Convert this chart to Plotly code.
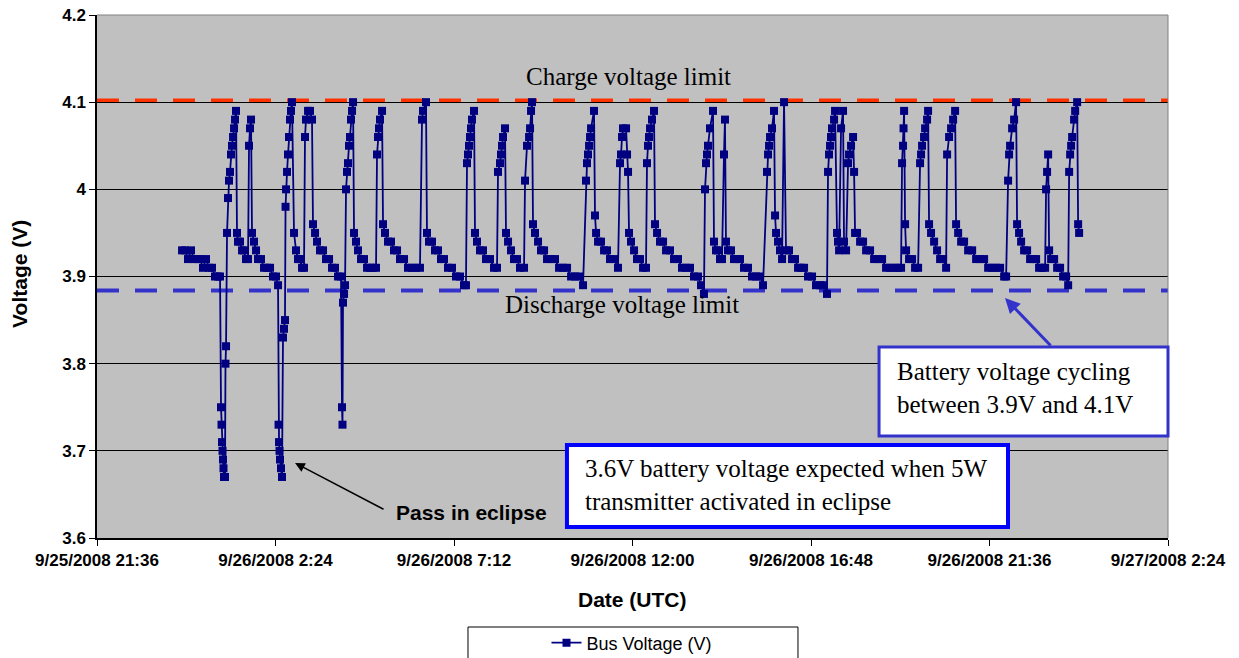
import pandas as pd
import plotly.graph_objects as go

# ---------------- data ----------------
# minutes after 2008-09-26 00:00 UTC
minutes = [
    -6.8, -2.0, 2.8, 7.7, 12.5, 17.4, 22.2, 27.0, 31.9, 36.7, 41.6, 46.4, 51.2, 54.5,
    56.1, 56.9, 57.7, 58.5, 59.3, 60.1, 60.9, 62.5, 63.3, 64.2, 65.8, 67.4, 69.0, 70.6, 72.2, 73.8, 75.5, 77.1, 78.7, 80.3,
    81.9, 83.5, 86.7, 90.0, 93.2, 96.4, 99.7,
    101.3, 102.9, 104.5, 106.1, 109.3, 112.6, 115.8, 120.6, 125.5, 130.3, 135.2, 140.0, 144.8, 148.1,
    148.9, 149.7, 150.5, 151.3, 152.9, 154.5, 156.1, 157.7, 159.3, 160.2, 161.0, 162.6, 164.2, 165.8, 167.4, 169.0, 170.6,
    173.9, 177.1, 180.3, 183.6, 186.8, 190.0,
    191.6, 193.2, 196.5, 199.7, 202.9, 204.5, 207.8, 211.0, 215.8, 220.7, 225.5, 230.4, 235.2, 240.0, 244.9, 249.7,
    251.3, 252.1, 252.9, 254.6, 256.2, 257.8, 259.4, 261.0, 262.6, 264.2, 265.8, 267.5, 269.1,
    270.7, 273.9, 277.1, 282.0, 286.8, 291.7, 296.5, 301.3, 306.2,
    307.8, 309.4, 311.0, 312.6, 315.9, 317.5, 320.7, 325.5, 330.4, 335.2, 340.1, 344.9, 351.4, 357.8, 364.3, 370.7, 377.1,
    380.4, 382.0, 386.8, 388.4, 391.7, 396.5, 401.3, 406.2, 411.0, 415.9, 422.3, 428.8, 435.2, 441.7, 448.1, 451.3,
    453.0, 454.6, 456.2, 457.8, 459.4, 461.0, 464.3, 465.9, 469.1, 473.9, 478.8, 483.6, 490.1, 496.5, 501.4,
    503.0, 506.2, 507.8, 509.4, 511.1, 514.3, 515.9, 519.2, 524.0, 528.8, 533.7, 538.5, 545.0,
    546.6, 549.8, 553.1, 554.7, 556.3, 557.9, 559.5, 562.7, 567.6, 572.4, 577.3, 582.1, 588.6, 595.0, 601.5, 607.9, 614.4, 620.9, 627.3, 633.8, 640.2,
    645.0, 646.6, 648.2, 649.9, 651.5, 653.1, 657.9, 659.5, 661.2, 664.4, 669.2, 674.1, 678.9, 683.7, 690.2, 696.6,
    699.9, 701.5, 703.1, 704.7, 709.6, 711.2, 712.8, 714.4, 717.6, 722.5, 727.3, 732.1, 737.0, 741.8,
    743.4, 745.0, 746.6, 748.3, 751.5, 754.7, 756.3, 759.6, 764.4, 769.3, 774.1, 780.5, 787.0, 793.4, 799.9, 806.3, 812.8, 819.2, 825.7, 830.5, 835.3,
    837.0, 838.6, 840.2, 841.8, 845.0, 849.9, 851.5, 854.7, 857.9, 861.2, 864.4, 867.6, 869.2, 870.8, 874.1, 878.9, 883.8, 888.6, 893.5, 899.9, 906.4, 912.8, 919.3, 925.7, 930.6,
    937.0, 938.7, 940.3, 941.9, 945.1, 948.3, 950.0, 951.6, 954.8, 958.0, 961.3, 964.5, 967.7, 972.5, 977.4, 982.2, 987.1, 991.9, 996.8, 1003.2, 1009.7, 1016.1, 1022.6, 1029.0, 1033.8,
    1035.5, 1037.1, 1038.7, 1040.3, 1041.9, 1045.2, 1046.8, 1050.0, 1051.6, 1053.3, 1056.5, 1059.7, 1061.3, 1064.6, 1067.8, 1069.4, 1072.6, 1075.9, 1077.5,
    1079.1, 1082.3, 1087.2, 1092.0, 1096.9, 1103.3, 1109.8, 1116.2, 1122.7, 1129.1, 1135.6, 1142.0, 1148.5, 1153.3,
    1154.9, 1156.5, 1157.3, 1158.2, 1159.8, 1161.4, 1166.2, 1171.1, 1175.9, 1180.8,
    1184.0, 1185.6, 1187.2, 1190.4, 1192.1, 1195.3, 1196.9, 1198.5, 1201.7, 1206.6, 1211.4, 1216.3, 1221.1, 1226.0,
    1227.6, 1230.8, 1234.0, 1237.3, 1240.5, 1242.1, 1245.4, 1250.2, 1255.0, 1261.5, 1268.0, 1274.4, 1280.9, 1287.3, 1293.8, 1300.2, 1306.6, 1313.1, 1319.6, 1322.8,
    1326.0, 1327.6, 1329.2, 1332.5, 1335.7, 1338.9, 1340.5, 1343.7, 1347.0, 1351.8, 1356.7, 1361.5, 1366.3, 1371.2, 1376.0, 1380.9, 1385.7,
    1387.3, 1388.9, 1390.6, 1392.2, 1395.4, 1400.3, 1405.1, 1409.9, 1414.8, 1419.6, 1422.9,
    1424.5, 1426.1, 1427.7, 1429.3, 1432.5, 1434.2, 1437.4, 1439.0, 1440.6,
]

bus_voltage = [
    3.93, 3.93, 3.92, 3.93, 3.92, 3.92, 3.92, 3.91, 3.92, 3.91, 3.91, 3.90, 3.90, 3.90,
    3.75, 3.73, 3.71, 3.70, 3.69, 3.68, 3.67, 3.67, 3.80, 3.82, 3.95, 3.99, 4.01, 4.02, 4.04, 4.05, 4.06, 4.07, 4.08, 4.09,
    3.95, 3.94, 3.94, 3.93, 3.93, 3.92, 3.92,
    4.05, 4.07, 4.08, 3.95, 3.94, 3.93, 3.92, 3.92, 3.91, 3.91, 3.91, 3.90, 3.90, 3.89,
    3.73, 3.71, 3.70, 3.69, 3.68, 3.67, 3.83, 3.84, 3.85, 3.98, 4.00, 4.02, 4.04, 4.06, 4.08, 4.09, 4.10,
    3.95, 3.93, 3.92, 3.92, 3.91, 3.91,
    4.06, 4.08, 4.09, 4.09, 4.08, 3.96, 3.95, 3.94, 3.93, 3.93, 3.92, 3.92, 3.91, 3.91, 3.90, 3.90,
    3.75, 3.73, 3.87, 3.88, 3.89, 4.00, 4.02, 4.03, 4.05, 4.06, 4.08, 4.09, 4.10,
    3.95, 3.94, 3.93, 3.92, 3.92, 3.91, 3.91, 3.91, 3.91,
    4.04, 4.06, 4.07, 4.08, 4.09, 3.96, 3.95, 3.94, 3.94, 3.93, 3.93, 3.92, 3.92, 3.91, 3.91, 3.91, 3.91,
    4.08, 4.09, 4.10, 3.95, 3.94, 3.94, 3.93, 3.93, 3.92, 3.92, 3.91, 3.91, 3.90, 3.90, 3.89, 3.89,
    4.03, 4.04, 4.05, 4.06, 4.07, 4.08, 4.09, 3.95, 3.94, 3.93, 3.93, 3.92, 3.92, 3.91, 3.91,
    4.02, 4.03, 4.04, 4.05, 4.06, 4.07, 3.95, 3.94, 3.93, 3.92, 3.92, 3.91, 3.91,
    4.01, 4.05, 4.06, 4.07, 4.09, 4.10, 3.96, 3.95, 3.94, 3.93, 3.93, 3.92, 3.92, 3.92, 3.91, 3.91, 3.91, 3.90, 3.90, 3.90, 3.89,
    4.01, 4.03, 4.04, 4.05, 4.06, 4.07, 4.09, 3.97, 3.95, 3.94, 3.94, 3.93, 3.93, 3.92, 3.92, 3.91,
    4.03, 4.04, 4.06, 4.07, 4.07, 4.04, 4.02, 3.95, 3.94, 3.93, 3.92, 3.92, 3.91, 3.91,
    4.03, 4.05, 4.06, 4.07, 4.08, 4.09, 3.96, 3.95, 3.94, 3.94, 3.93, 3.93, 3.92, 3.92, 3.91, 3.91, 3.91, 3.90, 3.90, 3.89, 3.88,
    4.00, 4.03, 4.04, 4.05, 4.07, 4.09, 3.94, 3.93, 3.93, 3.92, 3.92, 4.04, 4.08, 3.94, 3.93, 3.93, 3.92, 3.92, 3.92, 3.91, 3.91, 3.90, 3.90, 3.90, 3.89,
    4.02, 4.04, 4.05, 4.06, 4.07, 4.09, 3.97, 3.95, 3.94, 3.93, 3.92, 4.10, 3.93, 3.93, 3.92, 3.92, 3.91, 3.91, 3.91, 3.90, 3.90, 3.89, 3.89, 3.89, 3.88,
    4.02, 4.04, 4.05, 4.06, 4.07, 4.08, 4.09, 3.95, 3.94, 3.93, 4.07, 4.09, 3.94, 3.93, 4.03, 4.04, 4.05, 4.06, 4.02,
    3.95, 3.95, 3.94, 3.94, 3.93, 3.93, 3.92, 3.92, 3.92, 3.91, 3.91, 3.91, 3.91, 3.91,
    4.03, 4.05, 4.07, 4.09, 3.96, 3.93, 3.92, 3.92, 3.91, 3.91,
    4.03, 4.04, 4.05, 4.06, 4.07, 4.08, 4.09, 3.96, 3.95, 3.94, 3.93, 3.92, 3.92, 3.91,
    4.04, 4.06, 4.07, 4.08, 4.09, 3.96, 3.95, 3.94, 3.94, 3.93, 3.93, 3.92, 3.92, 3.92, 3.91, 3.91, 3.91, 3.91, 3.90, 3.90,
    4.01, 4.04, 4.05, 4.07, 4.08, 4.10, 3.96, 3.95, 3.94, 3.93, 3.93, 3.92, 3.92, 3.92, 3.91, 3.91, 3.91,
    4.00, 4.02, 4.04, 3.93, 3.92, 3.92, 3.91, 3.91, 3.90, 3.90, 3.89,
    4.02, 4.04, 4.05, 4.06, 4.08, 4.09, 4.10, 3.96, 3.95,
]

charge_limit = 4.102
discharge_limit = 3.884

x_tick_vals = ["2008-09-25 21:36", "2008-09-26 02:24", "2008-09-26 07:12", "2008-09-26 12:00",
               "2008-09-26 16:48", "2008-09-26 21:36", "2008-09-27 02:24"]
x_tick_text = ["9/25/2008 21:36", "9/26/2008 2:24", "9/26/2008 7:12", "9/26/2008 12:00",
               "9/26/2008 16:48", "9/26/2008 21:36", "9/27/2008 2:24"]
y_tick_vals = [3.6, 3.7, 3.8, 3.9, 4.0, 4.1, 4.2]
y_tick_text = ["3.6", "3.7", "3.8", "3.9", "4", "4.1", "4.2"]

# ---------------- figure ----------------
base = pd.Timestamp("2008-09-26 00:00")
times = base + pd.to_timedelta(minutes, unit="min")

SANS = "Liberation Sans, Arial, sans-serif"
SERIF = "Liberation Serif, Times New Roman, serif"
NAVY = "#000080"

fig = go.Figure()
fig.add_trace(go.Scatter(
    x=times, y=bus_voltage, mode="lines+markers", name="Bus Voltage (V)",
    line=dict(color=NAVY, width=1.8),
    marker=dict(symbol="square", size=8, color=NAVY),
))

shapes = [
    # limit lines
    dict(type="line", xref="paper", yref="y", x0=0, x1=1, y0=charge_limit, y1=charge_limit,
         line=dict(color="#FF3300", width=4, dash="22px,16px"), layer="between"),
    dict(type="line", xref="paper", yref="y", x0=0, x1=1, y0=discharge_limit, y1=discharge_limit,
         line=dict(color="#3333CC", width=4, dash="22px,16px"), layer="between"),
    # plot area top / right border
    dict(type="line", xref="paper", yref="paper", x0=0, x1=1, y0=1, y1=1,
         line=dict(color="#808080", width=1), layer="above"),
    dict(type="line", xref="paper", yref="paper", x0=1, x1=1, y0=0, y1=1,
         line=dict(color="#808080", width=1), layer="above"),
    # annotation boxes
    dict(type="rect", xref="paper", yref="paper", x0=0.7302, x1=1.0, y0=0.195, y1=0.3652,
         line=dict(color="#3333CC", width=3), fillcolor="white", layer="above"),
    dict(type="rect", xref="paper", yref="paper", x0=0.4388, x1=0.8506, y0=0.021, y1=0.1778,
         line=dict(color="#0000FF", width=4), fillcolor="white", layer="above"),
    # legend box
    dict(type="rect", xref="paper", yref="paper", x0=0.3464, x1=0.6545, y0=-0.2333, y1=-0.1702,
         line=dict(color="black", width=1), fillcolor="white", layer="below"),
]

def label(text, x, y, font, **kw):
    d = dict(text=text, xref="paper", yref="paper", x=x, y=y, xanchor="center",
             yanchor="middle", showarrow=False, font=font)
    d.update(kw)
    return d

serif_font = dict(family=SERIF, size=25, color="black")
bold_font = dict(family=SANS, size=21, color="black", weight="bold")

annotations = [
    label("Charge voltage limit", 0.4958, 0.8815, serif_font),
    label("Discharge voltage limit", 0.4902, 0.4474, serif_font),
    label("Battery voltage cycling<br>between 3.9V and 4.1V", 0.7451, 0.2868, serif_font,
          xanchor="left", align="left"),
    label("3.6V battery voltage expected when 5W<br>transmitter activated in eclipse",
          0.4538, 0.1013, serif_font, xanchor="left", align="left"),
    label("Pass in eclipse", 0.3501, 0.0497, bold_font),
    # arrows
    dict(text="", xref="paper", yref="paper", x=0.8478, y=0.4589, ax=47, ay=49,
         showarrow=True, arrowhead=2, arrowsize=1, arrowwidth=3, arrowcolor="#3333CC"),
    dict(text="", xref="paper", yref="paper", x=0.1849, y=0.1434, ax=90, ay=47,
         showarrow=True, arrowhead=2, arrowsize=1.3, arrowwidth=1.5, arrowcolor="black"),
    # axis titles
    label("Date (UTC)", 0.5, -0.1185, bold_font),
    label("Voltage (V)", -0.0719, 0.505, bold_font, textangle=-90),
]

tickfont = dict(family=SANS, size=17, color="black", weight="bold")

# page body has an 8px margin, so the figure is sized/offset to compensate
fig.update_layout(
    width=1231, height=650,
    margin=dict(l=89, r=71, t=7, b=120, autoexpand=False),
    paper_bgcolor="white", plot_bgcolor="#C0C0C0",
    shapes=shapes, annotations=annotations,
    showlegend=True,
    legend=dict(xref="container", yref="container", x=0.5069, xanchor="center",
                y=0.0231, yanchor="middle", orientation="h",
                bgcolor="rgba(0,0,0,0)", font=dict(family=SANS, size=18, color="black")),
    xaxis=dict(type="date", range=[x_tick_vals[0], x_tick_vals[-1]], automargin=False,
               tickmode="array", tickvals=x_tick_vals, ticktext=x_tick_text,
               ticks="outside", ticklen=6, tickcolor="black", tickfont=tickfont,
               ticklabeloverflow="allow",
               showgrid=False, zeroline=False, showline=True, linecolor="black", linewidth=1.5),
    yaxis=dict(range=[3.6, 4.2], automargin=False, tickmode="array",
               tickvals=y_tick_vals, ticktext=y_tick_text,
               ticks="outside", ticklen=6, tickcolor="black", tickfont=tickfont,
               ticklabeloverflow="allow",
               showgrid=True, gridcolor="black", gridwidth=1, zeroline=False,
               showline=True, linecolor="black", linewidth=1.5),
)

fig.write_html("out.html")
